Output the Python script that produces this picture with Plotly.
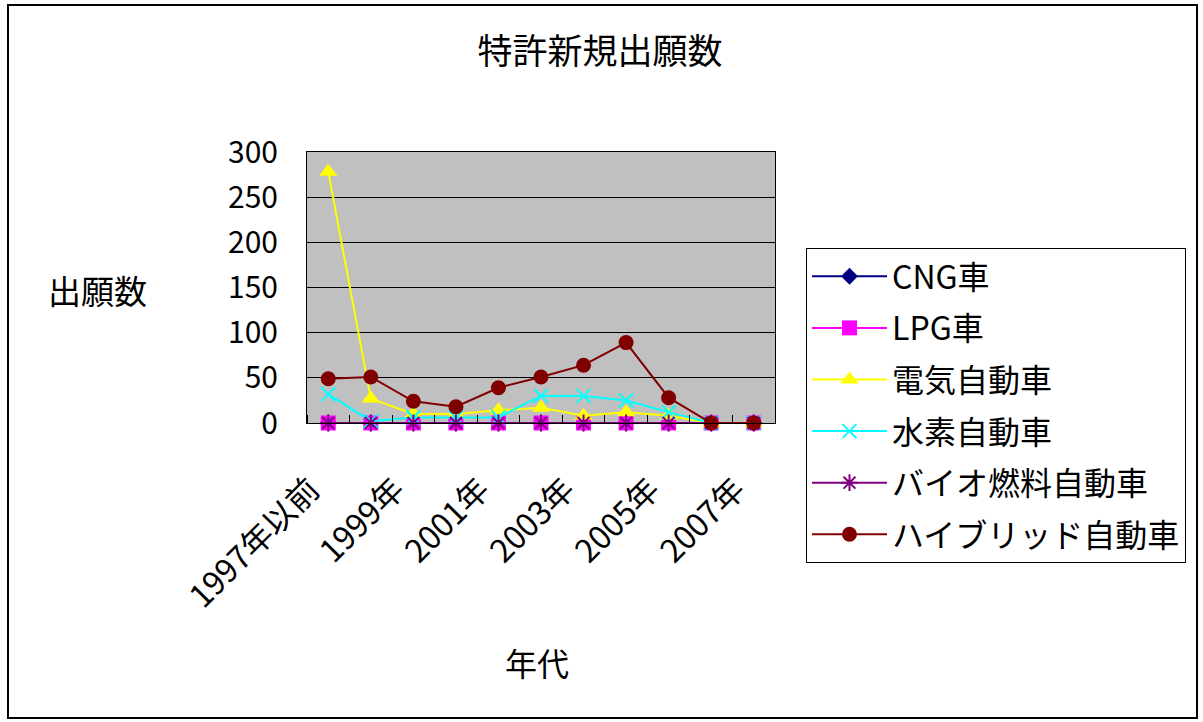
import plotly.graph_objects as go

# Filing year categories (x axis)
years = ["1997年以前", "1998年", "1999年", "2000年", "2001年", "2002年",
         "2003年", "2004年", "2005年", "2006年", "2007年"]

# New patent applications per vehicle type
cng = [0, 0, 0, 0, 0, 0, 0, 0, 0, 0, 0]
lpg = [0, 0, 0, 0, 0, 0, 0, 0, 0, 0, 0]
electric = [278, 27, 10, 10, 14, 17, 8, 12, 8, 0, 0]
hydrogen = [32, 2, 6, 6, 6, 30, 30, 25, 12, 0, 0]
biofuel = [0, 0, 0, 0, 0, 0, 0, 0, 0, 0, 0]
hybrid = [49, 51, 24, 18, 39, 51, 64, 89, 28, 0, 0]

y_ticks = [0, 50, 100, 150, 200, 250, 300]

FONT = "Noto Sans CJK JP"

# category positions on a linear axis, one slot per year
xpos = list(range(len(years)))

series = [
    ("CNG車", cng, "#000080", dict(symbol="diamond", size=13, color="#000080")),
    ("LPG車", lpg, "#FF00FF", dict(symbol="square", size=15, color="#FF00FF")),
    ("電気自動車", electric, "#FFFF00", dict(symbol="triangle-up", size=16, color="#FFFF00")),
    ("水素自動車", hydrogen, "#00FFFF",
     dict(symbol="x-thin-open", size=14, color="#00FFFF", line=dict(width=2, color="#00FFFF"))),
    ("バイオ燃料自動車", biofuel, "#800080",
     dict(symbol="asterisk-open", size=14, color="#800080", line=dict(width=2, color="#800080"))),
    ("ハイブリッド自動車", hybrid, "#800000", dict(symbol="circle", size=15, color="#800000")),
]

fig = go.Figure()
for name, vals, col, mk in series:
    fig.add_trace(go.Scatter(
        x=xpos, y=vals, name=name, mode="lines+markers",
        line=dict(color=col, width=2), marker=mk,
        legendgroup=name, cliponaxis=False,
    ))

# Plot area spans x 307..775 px, y 152..423 px
L, R, T, B = 307, 775, 152, 423
W, H = 1203, 722
pw, ph = R - L, B - T


def px(xp):
    return (xp - L) / pw


def py(yp):
    return (B - yp) / ph


fig.update_layout(
    width=W, height=H,
    margin=dict(l=L, r=W - R, t=T, b=H - B, autoexpand=False),
    paper_bgcolor="white",
    plot_bgcolor="#C0C0C0",
    font=dict(family=FONT, color="black"),
    title=dict(text="特許新規出願数", x=600 / W, xref="container", xanchor="center",
               y=1 - 52 / H, yanchor="middle", font=dict(size=35, family=FONT)),
    showlegend=True,
    legend=dict(
        x=px(806), y=py(248), xanchor="left", yanchor="top",
        bgcolor="white", bordercolor="black", borderwidth=1,
        font=dict(size=32, family=FONT), tracegroupgap=7, itemwidth=75,
        maxheight=500,
    ),
    xaxis=dict(
        tickmode="array", tickvals=xpos[::2], ticktext=years[::2],
        ticks="", tickangle=-45, tickfont=dict(size=32, family=FONT),
        ticklabelstandoff=34, ticklabelshift=-18,
        minor=dict(tickvals=[i - 0.5 for i in range(len(years) + 1)],
                   ticks="inside", ticklen=8, tickcolor="black", tickwidth=1,
                   showgrid=False),
        showline=True, linecolor="black", linewidth=1, mirror=True,
        showgrid=False, zeroline=False, range=[-0.5, len(years) - 0.5],
    ),
    yaxis=dict(
        range=[0, 300], tickvals=y_ticks, ticks="", ticklabelstandoff=22,
        tickfont=dict(size=30, family=FONT),
        showline=True, linecolor="black", linewidth=1, mirror=True,
        showgrid=True, gridcolor="black", gridwidth=1, zeroline=False,
    ),
    annotations=[
        dict(text="出願数", x=px(97), y=py(290), xref="paper", yref="paper",
             showarrow=False, font=dict(size=33, family=FONT),
             xanchor="center", yanchor="middle"),
        dict(text="年代", x=px(537), y=py(662), xref="paper", yref="paper",
             showarrow=False, font=dict(size=32, family=FONT),
             xanchor="center", yanchor="middle"),
    ],
    shapes=[
        dict(type="rect", xref="paper", yref="paper",
             x0=px(8), x1=px(1197), y0=py(718), y1=py(5),
             line=dict(color="black", width=2), fillcolor="rgba(0,0,0,0)", layer="below"),
    ],
)

fig.write_html("out.html")
